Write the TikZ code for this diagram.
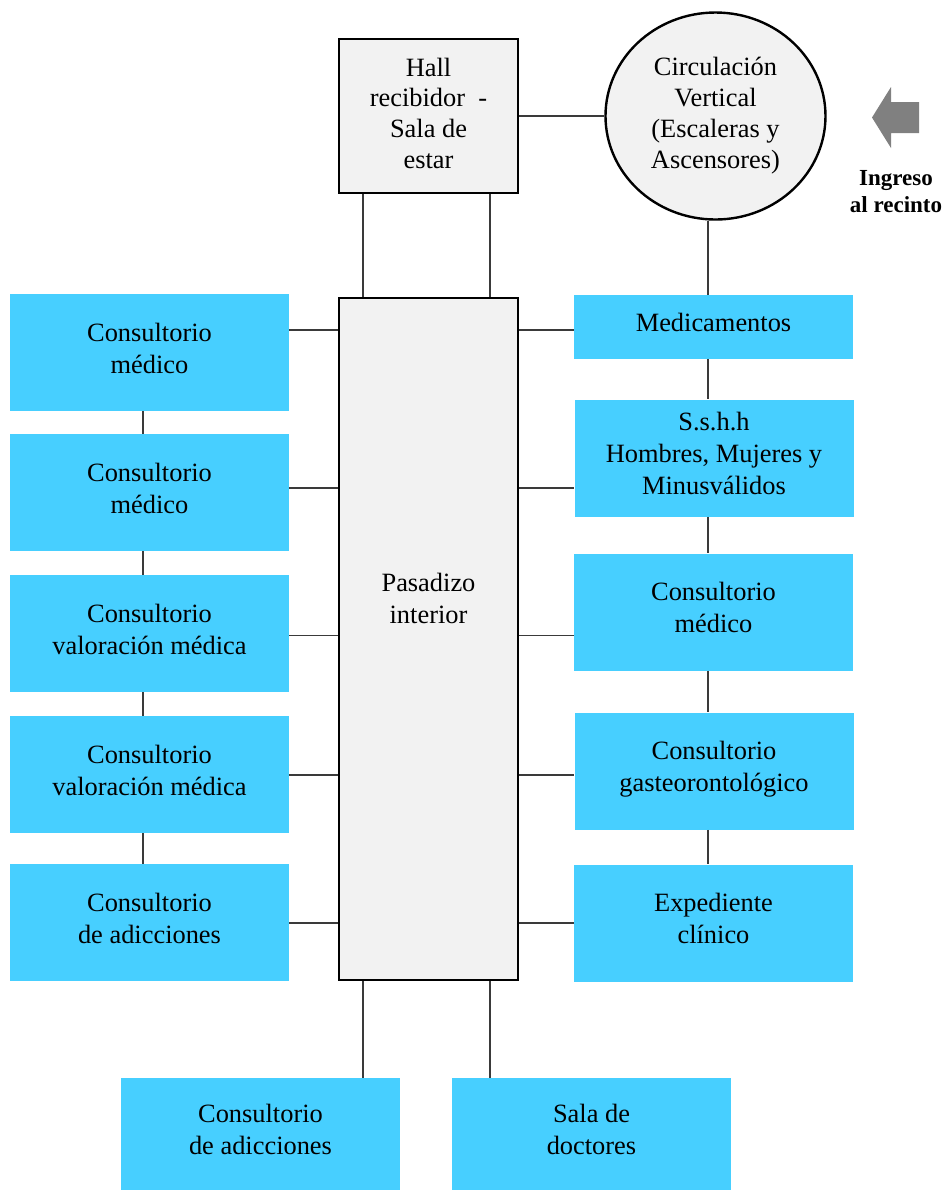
\documentclass[tikz,border=0pt]{standalone}
\usepackage{fontspec}
\setmainfont{Liberation Serif}
\usetikzlibrary{shapes.geometric}
\definecolor{celeste}{HTML}{47CFFF}
\definecolor{gris}{HTML}{F2F2F2}
\definecolor{linea}{HTML}{3A3A3A}
\definecolor{flecha}{HTML}{808080}
\tikzset{
  every node/.style={font=\rmfamily\fontsize{13.2}{16}\selectfont, align=center},
  % Recintos
  zona/.style={rectangle, fill=celeste, inner sep=0pt, text depth=4.3pt,
    minimum width=139.5pt, minimum height=58.5pt},
  hallbox/.style={rectangle, draw=black, fill=gris, line width=1.2pt, inner sep=0pt},
  circbox/.style={ellipse, draw=black, fill=gris, line width=1.2pt, inner sep=0pt},
  % Conexiones
  link/.style={draw=linea, line width=0.75pt},
}

\begin{document}
\begin{tikzpicture}[x=0.5pt, y=-0.5pt]
  \useasboundingbox (0,0) rectangle (946,1191);
  % ejes de las conexiones
  \coordinate (ejeL) at (143,0);
  \coordinate (ejeR) at (708,0);
  \coordinate (ejeA) at (363,0);
  \coordinate (ejeB) at (490,0);
  \coordinate (f1) at (0,330);
  \coordinate (f2) at (0,488);
  \coordinate (f3) at (0,635.5);
  \coordinate (f4) at (0,775);
  \coordinate (f5) at (0,923);
  % Hall y circulacion
  \node[hallbox, text depth=3pt, font=\rmfamily\fontsize{13.2}{15.3}\selectfont,
    minimum width=89.5pt, minimum height=77pt] (hall) at (428.5,116)
    {Hall\\recibidor\ \ -\\Sala de\\estar};
  \node[circbox, font=\rmfamily\fontsize{13.2}{15.5}\selectfont,
    minimum width=110pt, minimum height=103.5pt] (circ) at (715.5,116)
    {Circulación\\Vertical\\(Escaleras y\\Ascensores)};
  % Pasadizo
  \node[hallbox, minimum width=89.5pt, minimum height=341pt] (pasadizo) at (428.5,639) {};
  \node (pastxt) at (428.5,598) {Pasadizo\\interior};
  % columna izquierda
  \node[zona] (l1) at (149.5,352.5) {Consultorio\\médico};
  \node[zona] (l2) at (149.5,492.5) {Consultorio\\médico};
  \node[zona] (l3) at (149.5,633.5) {Consultorio\\valoración médica};
  \node[zona] (l4) at (149.5,774.5) {Consultorio\\valoración médica};
  \node[zona] (l5) at (149.5,922.5) {Consultorio\\de adicciones};
  % columna derecha
  \node[zona, minimum height=32pt] (r1) at (713.5,327) {Medicamentos};
  \node[zona] (r2) at (714,458) {S.s.h.h\\Hombres, Mujeres y\\Minusválidos};
  \node[zona] (r3) at (713.5,612) {Consultorio\\médico};
  \node[zona] (r4) at (714,771) {Consultorio\\gasteorontológico};
  \node[zona] (r5) at (713.5,923) {Expediente\\clínico};
  % abajo
  \node[zona, minimum height=56pt] (b1) at (260.5,1134) {Consultorio\\de adicciones};
  \node[zona, minimum height=56pt] (b2) at (591.5,1134) {Sala de\\doctores};
  % Ingreso
  \fill[flecha] (872,117.5) -- (891,87) -- (891,102) -- (919,102) -- (919,133)
    -- (891,133) -- (891,148) -- cycle;
  \node[font=\rmfamily\bfseries\fontsize{11.5}{13.5}\selectfont] (ingreso) at (896,192)
    {Ingreso\\al recinto};
  % conexiones
  \draw[link] (hall.east) -- (hall.east -| circ.west);
  \draw[link] (hall.south -| ejeA) -- (pasadizo.north -| ejeA);
  \draw[link] (hall.south -| ejeB) -- (pasadizo.north -| ejeB);
  \draw[link] (pasadizo.south -| ejeA) -- (b1.north -| ejeA);
  \draw[link] (pasadizo.south -| ejeB) -- (b2.north -| ejeB);
  \draw[link] (circ.south -| ejeR) -- (r1.north -| ejeR);
  \foreach \i in {1,...,5} {
    \draw[link] (l\i.east |- f\i) -- (pasadizo.west |- f\i);
    \draw[link] (pasadizo.east |- f\i) -- (r\i.west |- f\i);
  }
  \foreach \i/\j in {1/2,2/3,3/4,4/5} {
    \draw[link] (l\i.south -| ejeL) -- (l\j.north -| ejeL);
    \draw[link] (r\i.south -| ejeR) -- (r\j.north -| ejeR);
  }
\end{tikzpicture}
\end{document}
